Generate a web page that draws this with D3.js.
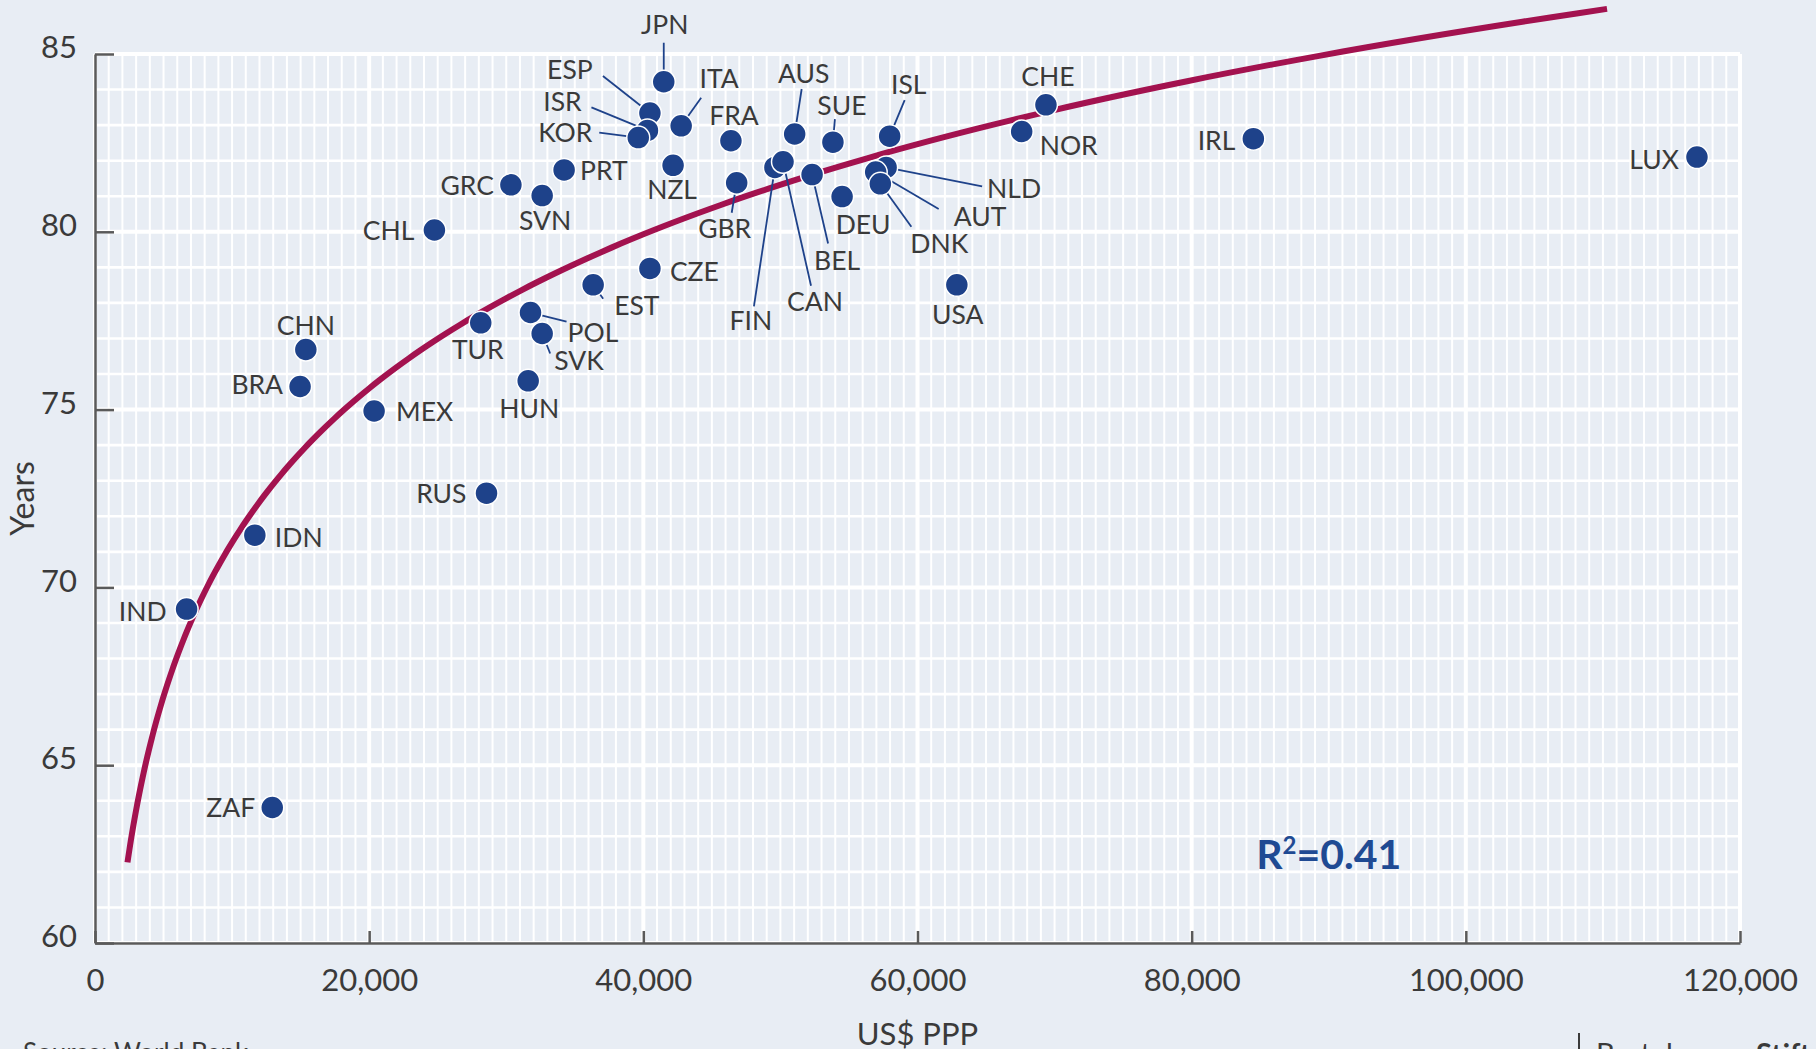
<!DOCTYPE html>
<html>
<head>
<meta charset="utf-8">
<script src="https://cdn.jsdelivr.net/npm/d3@7"></script>
<style>
  html, body { margin: 0; padding: 0; background: #e8edf4; }
  svg { display: block; font-family: Lato, "Open Sans", sans-serif; }
</style>
</head>
<body>
<svg class="chart" width="1816" height="1049"></svg>
<script>
// country codes, GDP per capita (US$ PPP) and life expectancy (years)
var countries = ["JPN","ESP","ISR","KOR","ITA","FRA","AUS","SUE","ISL","CHE","NOR","IRL","LUX",
                 "PRT","GRC","NZL","SVN","CHL","GBR","FIN","CAN","BEL","DEU","NLD","AUT","DNK",
                 "USA","CZE","EST","POL","SVK","TUR","HUN","CHN","BRA","MEX","RUS","IDN","IND","ZAF"];
var gdpPpp = [41490,40480,40300,39630,42760,46390,51040,53830,57970,69370,67600,84500,116860,
              34220,30340,42170,32620,24760,46810,49600,50190,52310,54500,57710,56950,57290,
              62870,40480,36340,31770,32620,28140,31600,15380,14960,20360,28560,11660,6680,12930];
var lifeExp = [84.22,83.34,82.85,82.65,82.98,82.56,82.75,82.52,82.69,83.57,82.82,82.62,82.10,
               81.74,81.32,81.87,81.02,80.05,81.38,81.81,81.97,81.61,80.99,81.81,81.68,81.35,
               78.51,78.97,78.51,77.73,77.14,77.44,75.81,76.69,75.65,74.96,72.65,71.47,69.39,63.81];

var xTicks = [0,20000,40000,60000,80000,100000,120000];
var yTicks = [60,65,70,75,80,85];

// logarithmic trend: years = a + b * ln(gdp)
var trendA = 13.7, trendB = 6.25;
var trendFrom = 2370, trendTo = 110300;
var rSquared = "0.41";

// label placement, px offsets from the dot: [dx, dy, anchor, leader end dx, leader end dy]
var labelPlace = {
  JPN:[1,-57,"middle",0,-39], ESP:[-80,-44,"middle",-47,-37], ISR:[-85,-29,"middle",-56,-23],
  KOR:[-73,-5,"middle",-39,-5], ITA:[38,-47,"middle",20,-28], FRA:[3,-25,"middle"],
  AUS:[9,-61,"middle",7,-45], SUE:[9,-37,"middle",2,-23], ISL:[19,-52,"middle",15,-36],
  CHE:[2,-28,"middle"], NOR:[18,14,"start"], IRL:[-18,2,"end"], LUX:[-18,2,"end"],
  PRT:[16,1,"start"], GRC:[-17,1,"end"], NZL:[-1,24,"middle"], SVN:[3,25,"middle"],
  CHL:[-20,0,"end"], GBR:[-12,46,"middle",-5,30], FIN:[-24,153,"middle",-21,139],
  CAN:[32,140,"middle",28,124], BEL:[25,86,"middle",16,69], DEU:[21,28,"middle"],
  NLD:[101,21,"start",96,19], AUT:[78,44,"start",63,37], DNK:[59,60,"middle",31,43],
  USA:[1,30,"middle"], CZE:[20,3,"start"], EST:[21,21,"start",10,14], POL:[37,20,"start",36,9],
  SVK:[12,27,"start",8,20], TUR:[-3,27,"middle"], HUN:[1,28,"middle"], CHN:[0,-24,"middle"],
  BRA:[-17,-2,"end"], MEX:[22,0,"start"], RUS:[-20,0,"end"], IDN:[20,2,"start"],
  IND:[-20,2,"end"], ZAF:[-17,0,"end"]
};

var points = countries.map(function (c, i) {
  return { code: c, gdp: gdpPpp[i], years: lifeExp[i] };
});

var svg = d3.select(".chart");
var MARGINS = { left: 95, right: 1740, top: 54, bottom: 943 };
var DOT = "#1e428a", TEXT = "#3a3a3a";

var xScale = d3.scaleLinear().domain([0, 120000]).range([MARGINS.left, MARGINS.right]),
    yScale = d3.scaleLinear().domain([60, 85]).range([MARGINS.bottom, MARGINS.top]);

// grid
var grid = svg.append("g");
grid.selectAll(".vminor").data(xScale.ticks(120)).enter().append("line")
    .attr("x1", function (d) { return xScale(d); }).attr("x2", function (d) { return xScale(d); })
    .attr("y1", MARGINS.top).attr("y2", MARGINS.bottom)
    .attr("stroke", "#fff").attr("stroke-width", function (d) { return d % 20000 === 0 ? 4 : 2; });
grid.selectAll(".hminor").data(yScale.ticks(25)).enter().append("line")
    .attr("x1", MARGINS.left).attr("x2", MARGINS.right)
    .attr("y1", function (d) { return yScale(d); }).attr("y2", function (d) { return yScale(d); })
    .attr("stroke", "#fff").attr("stroke-width", function (d) { return d % 5 === 0 ? 4 : 2.6; });

// axes
var yAxis = d3.axisLeft(yScale).tickValues(yTicks).tickSize(-19).tickSizeOuter(0).tickPadding(18);
var xAxis = d3.axisBottom(xScale).tickValues(xTicks).tickSize(-12).tickSizeOuter(0).tickPadding(26)
    .tickFormat(d3.format(","));

var gy = svg.append("g").attr("transform", "translate(" + MARGINS.left + ",0)").call(yAxis);
var gx = svg.append("g").attr("transform", "translate(0," + MARGINS.bottom + ")").call(xAxis);

[gx, gy].forEach(function (g) {
  g.select(".domain").attr("stroke", "#5a5a5a").attr("stroke-width", 2.5);
  g.selectAll(".tick line").attr("stroke", "#5a5a5a").attr("stroke-width", 2.5);
  g.selectAll(".tick text").attr("fill", TEXT).attr("font-size", 31).attr("font-family", "Lato");
});
gy.selectAll(".tick text").attr("dy", "0.12em");

// axis titles
svg.append("text")
    .attr("transform", "translate(34," + yScale(72.5) + ") rotate(-90)")
    .attr("text-anchor", "middle").attr("fill", TEXT).attr("font-size", 32).text("Years");
svg.append("text")
    .attr("x", xScale(60000)).attr("y", 1045)
    .attr("text-anchor", "middle").attr("fill", TEXT).attr("font-size", 31).text("US$ PPP");

// trend curve
var trendData = d3.range(0, 201).map(function (i) {
  var g = trendFrom * Math.pow(trendTo / trendFrom, i / 200);
  return [g, trendA + trendB * Math.log(g)];
});
var lineGen = d3.line()
    .x(function (d) { return xScale(d[0]); })
    .y(function (d) { return yScale(d[1]); });
svg.append("path")
    .attr("d", lineGen(trendData))
    .attr("fill", "none").attr("stroke", "#a3124f").attr("stroke-width", 6);

// leader lines
svg.append("g").selectAll("line")
    .data(points.filter(function (p) { return labelPlace[p.code].length > 3; }))
    .enter().append("line")
    .attr("x1", function (d) { return xScale(d.gdp); })
    .attr("y1", function (d) { return yScale(d.years); })
    .attr("x2", function (d) { return xScale(d.gdp) + labelPlace[d.code][3]; })
    .attr("y2", function (d) { return yScale(d.years) + labelPlace[d.code][4]; })
    .attr("stroke", DOT).attr("stroke-width", 1.8);

// dots
svg.append("g").selectAll("circle").data(points).enter().append("circle")
    .attr("cx", function (d) { return xScale(d.gdp); })
    .attr("cy", function (d) { return yScale(d.years); })
    .attr("r", 11.5)
    .attr("fill", DOT).attr("stroke", "#fff").attr("stroke-width", 1.5);

// labels
svg.append("g").selectAll("text").data(points).enter().append("text")
    .attr("x", function (d) { return xScale(d.gdp) + labelPlace[d.code][0]; })
    .attr("y", function (d) { return yScale(d.years) + labelPlace[d.code][1]; })
    .attr("dy", "0.36em")
    .attr("text-anchor", function (d) { return labelPlace[d.code][2]; })
    .attr("fill", TEXT).attr("font-size", 26.5)
    .text(function (d) { return d.code; });

// R squared
var rs = svg.append("text")
    .attr("x", xScale(90000)).attr("y", 869)
    .attr("text-anchor", "middle").attr("fill", "#1f4a93")
    .attr("font-size", 41).attr("font-weight", "bold");
rs.append("tspan").text("R");
rs.append("tspan").attr("font-size", 24).attr("dy", -15).text("2");
rs.append("tspan").attr("dy", 15).text("=" + rSquared);

// footer
svg.append("text").attr("x", 23).attr("y", 1062).attr("fill", TEXT).attr("font-size", 26)
    .text("Source: World Bank");
svg.append("line").attr("x1", 1579).attr("x2", 1579).attr("y1", 1033).attr("y2", 1049)
    .attr("stroke", TEXT).attr("stroke-width", 2);
var brand = svg.append("text").attr("x", 1596).attr("y", 1064).attr("fill", TEXT).attr("font-size", 29);
brand.append("tspan").text("Bertelsmann");
brand.append("tspan").attr("font-weight", "bold").text("Stiftung");
</script>
</body>
</html>
